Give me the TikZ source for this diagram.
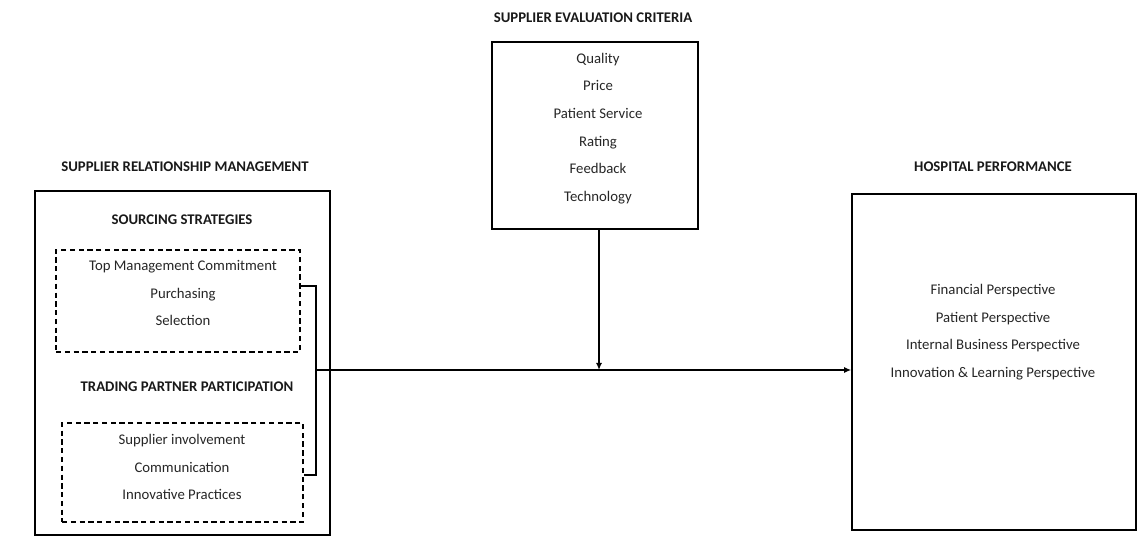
\documentclass[tikz,border=0pt]{standalone}
\usepackage{fontspec}
\setmainfont{Carlito}
\usetikzlibrary{arrows.meta,fit}

\tikzset{
  caja/.style={draw, line width=0.9pt, inner sep=0pt},
  cajapunt/.style={draw, line width=0.8pt, dash pattern=on 3pt off 2pt, inner sep=0pt},
  titulo/.style={font=\fontsize{8.4}{10}\selectfont\bfseries, text=black!90},
  lista/.style={align=center, font=\fontsize{8.4}{15.7}\selectfont, text=black!85},
  flecha/.style={line width=0.8pt, -{Latex[length=4pt,width=3.5pt]}},
}

\begin{document}
\begin{tikzpicture}[x=0.02cm, y=-0.02cm]
    \useasboundingbox (0,0) rectangle (1144,537);

    % Criterios de evaluacion del proveedor
    \node[titulo] (secTit) at (593,18) {SUPPLIER EVALUATION CRITERIA};
    \node[caja, fit={(492,42) (698,229)}] (sec) {};
    \node[lista] (secTxt) at (598,128.5) {Quality\\Price\\Patient Service\\Rating\\Feedback\\Technology};

    % Gestion de relaciones con proveedores
    \node[titulo] (srmTit) at (185,167) {SUPPLIER RELATIONSHIP MANAGEMENT};
    \node[caja, fit={(35,191) (330,535)}] (srm) {};
    \node[titulo] (ssTit) at (182,220) {SOURCING STRATEGIES};
    \node[cajapunt, fit={(56,250) (300,352)}] (ss) {};
    \node[lista] (ssTxt) at (183,293) {Top Management Commitment\\Purchasing\\Selection};
    \node[titulo] (tpTit) at (187,387) {TRADING PARTNER PARTICIPATION};
    \node[cajapunt, fit={(62,423) (303,522)}] (tp) {};
    \node[lista] (tpTxt) at (182,467) {Supplier involvement\\Communication\\Innovative Practices};

    % Desempeno hospitalario
    \node[titulo] (hpTit) at (993,167) {HOSPITAL PERFORMANCE};
    \node[caja, fit={(852,194) (1136,530)}] (hp) {};
    \node[lista] (hpTxt) at (993,332) {Financial Perspective\\Patient Perspective\\Internal Business Perspective\\Innovation \& Learning Perspective};

    % Conectores
    \coordinate (junta) at (316,370);
    \draw[line width=0.8pt] ([yshift=8.5pt]ss.east) -| (junta) |- ([yshift=-1.5pt]tp.east);
    \draw[flecha] (junta) -- (junta -| hp.west);
    \draw[flecha] (sec.south -| 599,0) -- (599,0 |- junta);
\end{tikzpicture}
\end{document}
